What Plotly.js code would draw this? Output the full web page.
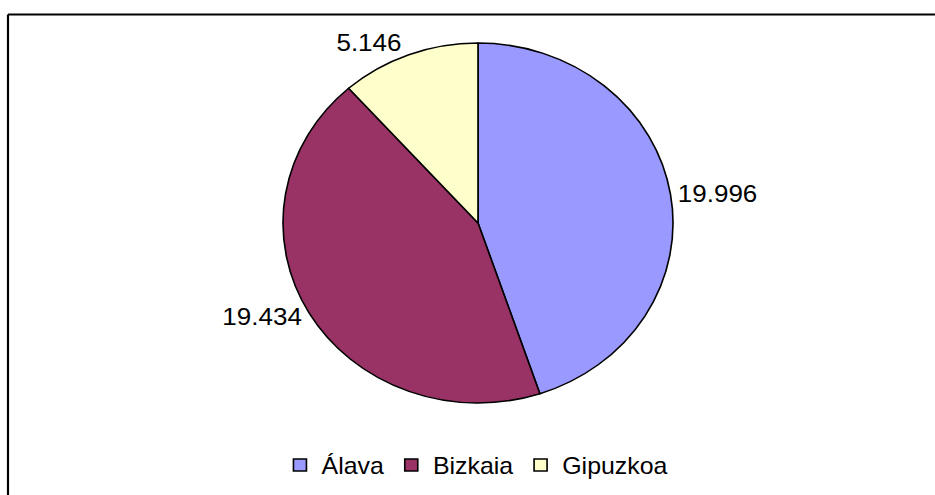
<!DOCTYPE html>
<html>
<head>
<meta charset="utf-8">
<script src="https://cdn.plot.ly/plotly-3.0.1.min.js"></script>
<style>
html,body{margin:0;padding:0;background:#fff;overflow:hidden;}
#chart{width:863px;height:495px;transform:scaleX(1.0834);transform-origin:0 0;}
</style>
</head>
<body>
<div id="chart"></div>
<script>
var categories = ["Álava", "Bizkaia", "Gipuzkoa"];
var values = [19996, 19434, 5146];
var valueLabels = ["19.996", "19.434", "5.146"];
var colors = ["#9999FF", "#993366", "#FFFFCC"];

var S = 1.0834;           // horizontal stretch of the original picture
var W = 863, H = 495;     // drawing size before the stretch
var cx = 478 / S, cy = 223, r = 180;

var trace = {
  type: "pie",
  labels: categories,
  values: values,
  text: valueLabels,
  textinfo: "text",
  textposition: "outside",
  sort: false,
  direction: "clockwise",
  rotation: 0,
  hoverinfo: "label+text",
  marker: {colors: colors, line: {color: "#000000", width: 1.5}},
  outsidetextfont: {family: "Liberation Sans, Arial, sans-serif", size: 24, color: "#000000"},
  domain: {
    x: [(cx - 420) / W, (cx + 420) / W],
    y: [(H - cy - r) / H, (H - cy + r) / H]
  }
};

var layout = {
  width: W, height: H,
  margin: {l: 0, r: 0, t: 0, b: 0},
  paper_bgcolor: "#ffffff",
  font: {family: "Liberation Sans, Arial, sans-serif", size: 23, color: "#000000"},
  showlegend: true,
  legend: {
    orientation: "h",
    x: (476 / S) / W, xanchor: "center",
    y: (H - 465) / H, yanchor: "middle",
    font: {size: 23, color: "#000000"},
    itemwidth: 30,
    traceorder: "normal"
  },
  shapes: [
    {type: "line", xref: "paper", yref: "paper", x0: (8 / S) / W, x1: 1, y0: 1 - 14.5 / H, y1: 1 - 14.5 / H, line: {color: "#000", width: 2}},
    {type: "line", xref: "paper", yref: "paper", x0: (8 / S) / W, x1: (8 / S) / W, y0: 0, y1: 1 - 14.5 / H, line: {color: "#000", width: 2}}
  ]
};

Plotly.newPlot("chart", [trace], layout, {displayModeBar: false, staticPlot: true});
</script>
</body>
</html>
